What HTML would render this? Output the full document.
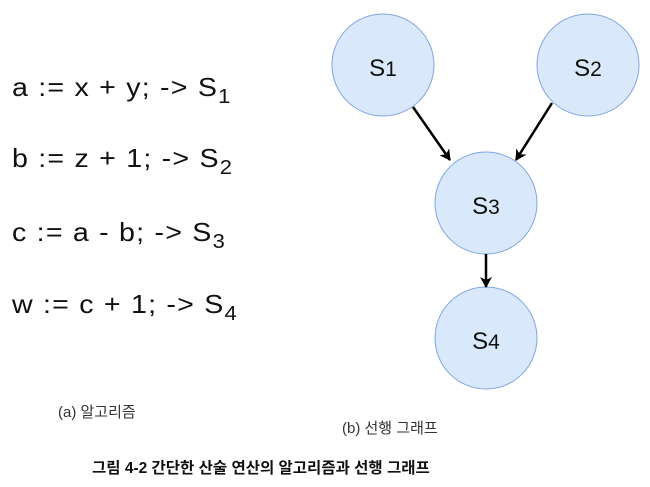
<!DOCTYPE html>
<html><head><meta charset="utf-8"><style>
body{margin:0;width:650px;height:487px;background:#fff;overflow:hidden;position:relative;font-family:"Liberation Sans","Noto Sans CJK KR",sans-serif;}
.l{position:absolute;left:12px;font-size:26px;letter-spacing:1.1px;color:#111;white-space:nowrap;line-height:30px;transform:scaleX(1.1);transform-origin:0 0}
.l sub{font-size:20px;vertical-align:-7px;line-height:0}
.c{position:absolute;font-size:15px;color:#333;white-space:nowrap}
</style></head><body>
<div class="l" style="top:72px">a := x + y; -&gt; S<sub>1</sub></div>
<div class="l" style="top:143px">b := z + 1; -&gt; S<sub>2</sub></div>
<div class="l" style="top:217px">c := a - b; -&gt; S<sub>3</sub></div>
<div class="l" style="top:289px">w := c + 1; -&gt; S<sub>4</sub></div>
<svg width="650" height="487" style="position:absolute;left:0;top:0">
<defs><marker id="a" markerWidth="12" markerHeight="12" refX="10" refY="6" orient="auto" markerUnits="userSpaceOnUse"><path d="M0,0 L11,6 L0,12 L3,6 Z" fill="#000"/></marker></defs>
<g fill="#dae8fc" stroke="#7ea6e0" stroke-width="1">
<circle cx="383" cy="65" r="51"/><circle cx="588" cy="65" r="51"/>
<circle cx="486" cy="203" r="51"/><circle cx="486" cy="338" r="51"/></g>
<g stroke="#000" stroke-width="2.5" marker-end="url(#a)">
<line x1="413" y1="107" x2="450" y2="160"/>
<line x1="552" y1="103" x2="516" y2="160"/>
<line x1="486" y1="254" x2="486" y2="287"/></g>
<g font-family="Liberation Sans, sans-serif" font-size="24" fill="#111" text-anchor="middle">
<text x="383" y="76">S<tspan font-size="21">1</tspan></text><text x="588" y="76">S<tspan font-size="21">2</tspan></text>
<text x="486" y="214">S<tspan font-size="21">3</tspan></text><text x="486" y="349">S<tspan font-size="21">4</tspan></text></g>
</svg>
<div class="c" style="left:58px;top:401px">(a) 알고리즘</div>
<div class="c" style="left:342px;top:417px">(b) 선행 그래프</div>
<div class="c" style="left:92px;top:456px;font-weight:bold;font-size:15.5px;color:#111">그림 4-2 간단한 산술 연산의 알고리즘과 선행 그래프</div>
</body></html>
